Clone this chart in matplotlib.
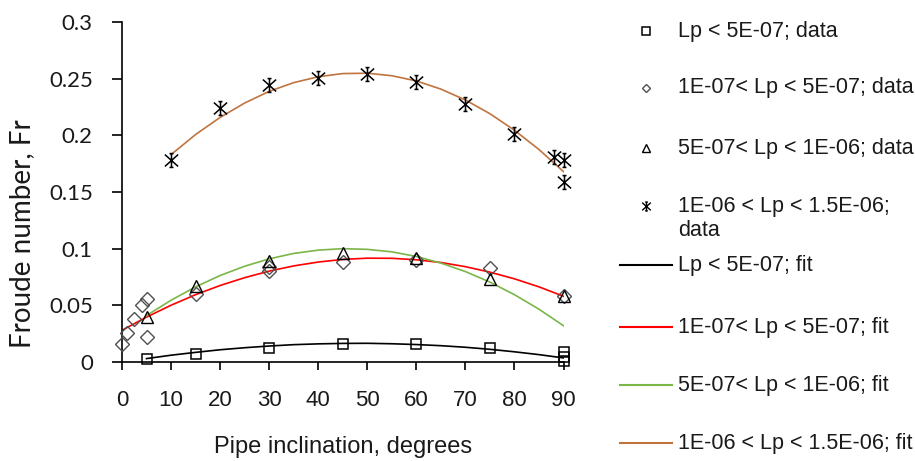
import numpy as np
import matplotlib
matplotlib.use("Agg")
import matplotlib.pyplot as plt
from matplotlib.lines import Line2D
from matplotlib.path import Path

# ---------------- data ----------------
sq_x = [5, 15, 30, 45, 60, 75, 90, 90, 90]
sq_y = [0.003, 0.007, 0.0125, 0.016, 0.016, 0.0125, 0.009, 0.0045, 0.001]

dm_x = [0, 1, 2.5, 4, 5, 5, 15, 30, 30, 45, 60, 75, 90]
dm_y = [0.016, 0.026, 0.038, 0.050, 0.056, 0.022, 0.060, 0.080, 0.084, 0.088, 0.090, 0.083, 0.058]

tr_x = [5, 15, 30, 45, 60, 75, 90]
tr_y = [0.040, 0.067, 0.089, 0.096, 0.0915, 0.073, 0.058]

st_x = [10, 20, 30, 40, 50, 60, 70, 80, 88, 90, 90]
st_y = [0.178, 0.224, 0.244, 0.251, 0.254, 0.247, 0.228, 0.201, 0.181, 0.178, 0.159]

# fitted trend lines
fit_black_x = [5, 10, 15, 20, 25, 30, 35, 40, 45, 50, 55, 60, 65, 70, 75, 80, 85, 90]
fit_black_y = [0.0030, 0.0060, 0.0085, 0.0108, 0.0126, 0.0141, 0.0153, 0.0160, 0.0164,
               0.0165, 0.0161, 0.0154, 0.0144, 0.0130, 0.0112, 0.0090, 0.0065, 0.0036]

fit_red_x = [0, 5, 10, 15, 20, 25, 30, 35, 40, 45, 50, 55, 60, 65, 70, 75, 80, 85, 90]
fit_red_y = [0.028, 0.0396, 0.0501, 0.0594, 0.0675, 0.0744, 0.0802, 0.0848, 0.0882, 0.0905,
             0.0916, 0.0915, 0.0902, 0.0878, 0.0841, 0.0793, 0.0734, 0.0663, 0.058]

fit_green_x = [5, 10, 15, 20, 25, 30, 35, 40, 45, 50, 55, 60, 65, 70, 75, 80, 85, 90]
fit_green_y = [0.041, 0.0545, 0.0663, 0.0763, 0.0845, 0.0910, 0.0958, 0.0987, 0.1000,
               0.0994, 0.0972, 0.0931, 0.0873, 0.0798, 0.0705, 0.0594, 0.0466, 0.0320]

fit_brown_x = [10, 15, 20, 25, 30, 35, 40, 45, 50, 55, 60, 65, 70, 75, 80, 85, 90]
fit_brown_y = [0.183, 0.2007, 0.2158, 0.2285, 0.2388, 0.2465, 0.2517, 0.2545, 0.2548,
               0.2526, 0.2480, 0.2408, 0.2312, 0.2191, 0.2045, 0.1875, 0.168]

x_ticks = [0, 10, 20, 30, 40, 50, 60, 70, 80, 90]
y_ticks = [0, 0.05, 0.1, 0.15, 0.2, 0.25, 0.3]
y_tick_labels = ["0", "0.05", "0.1", "0.15", "0.2", "0.25", "0.3"]

legend_labels = [
    "Lp < 5E-07; data",
    "1E-07< Lp < 5E-07; data",
    "5E-07< Lp < 1E-06; data",
    "1E-06 < Lp < 1.5E-06;\ndata",
    "Lp < 5E-07; fit",
    "1E-07< Lp < 5E-07; fit",
    "5E-07< Lp < 1E-06; fit",
    "1E-06 < Lp < 1.5E-06; fit",
]

x_label = "Pipe inclination, degrees"
y_label = "Froude number, Fr"

# ---------------- styles ----------------
C_RED = "#FF0000"
C_GREEN = "#7AB648"
C_BROWN = "#C0743E"
C_DIAM = "#505050"
C_TEXT = "#1a1a1a"

star_path = Path(
    [(-1, -0.9), (1, 0.9), (-1, 0.9), (1, -0.9), (0, -1.05), (0, 1.05),
     (-0.3, 1.05), (0.3, 1.05), (-0.3, -1.05), (0.3, -1.05)],
    [Path.MOVETO, Path.LINETO] * 5,
)

W, H = 915, 461
fig = plt.figure(figsize=(W / 100, H / 100), dpi=100)
ax_l, ax_r, ax_t, ax_b = 122, 563.5, 22, 362
ax = fig.add_axes([ax_l / W, 1 - ax_b / H, (ax_r - ax_l) / W, (ax_b - ax_t) / H])
ax.set_xlim(0, 90)
ax.set_ylim(0, 0.3)

lw_fit = 1.2
ax.plot(fit_black_x, fit_black_y, color="black", lw=lw_fit, zorder=2)
ax.plot(fit_red_x, fit_red_y, color=C_RED, lw=lw_fit, zorder=2)
ax.plot(fit_green_x, fit_green_y, color=C_GREEN, lw=lw_fit, zorder=2)
ax.plot(fit_brown_x, fit_brown_y, color=C_BROWN, lw=lw_fit, zorder=2)

ax.plot(sq_x, sq_y, ls="none", marker="s", ms=7.5, mfc="none", mec="black", mew=1.1, zorder=3, clip_on=False)
ax.plot(dm_x, dm_y, ls="none", marker="D", ms=6.8, mfc="none", mec=C_DIAM, mew=1.0, zorder=3, clip_on=False)
ax.plot(tr_x, tr_y, ls="none", marker="^", ms=8.5, mfc="none", mec="black", mew=1.0, zorder=3, clip_on=False)
ax.plot(st_x, st_y, ls="none", marker=star_path, ms=10, mfc="none", mec="black", mew=1.1, zorder=3, clip_on=False)

for s in ["top", "right"]:
    ax.spines[s].set_visible(False)
for s in ["left", "bottom"]:
    ax.spines[s].set_linewidth(1.2)
    ax.spines[s].set_color("black")

ax.set_xticks(x_ticks)
ax.set_xticklabels([str(v) for v in x_ticks], fontfamily="Liberation Sans", fontsize=16, color=C_TEXT)
ax.set_yticks(y_ticks)
ax.set_yticklabels(y_tick_labels, fontfamily="Lato", fontsize=16, color=C_TEXT)
ax.tick_params(axis="x", direction="out", length=6, width=1.2, pad=14)
ax.tick_params(axis="y", direction="out", length=7, width=1.2, pad=14)

fig.text((ax_l + ax_r) / 2 / W, 1 - 447 / H, x_label, ha="center", va="center",
         fontfamily="Liberation Sans", fontsize=17, color=C_TEXT)
fig.text(22 / W, 1 - 234 / H, y_label, ha="center", va="center", rotation=90,
         fontfamily="Lato", fontsize=20, color=C_TEXT)

# ---------------- legend (manual placement) ----------------
def fx(px):
    return px / W

def fy(py):
    return 1 - py / H

handles = [
    dict(marker="s", ms=6, mec="black", mew=1.1),
    dict(marker="D", ms=4.5, mec=C_DIAM, mew=1.0),
    dict(marker="^", ms=6, mec="black", mew=1.0),
    dict(marker=star_path, ms=6.5, mec="black", mew=1.0),
]
line_colors = ["black", C_RED, C_GREEN, C_BROWN]
row_y = [31, 88, 148, 218.5, 265, 327, 385, 443]
marker_row_y = [31, 88, 148, 206]
text_x = 678

for i, hd in enumerate(handles):
    fig.add_artist(Line2D([fx(646)], [fy(marker_row_y[i])], ls="none", mfc="none",
                          transform=fig.transFigure, **hd))
for i, c in enumerate(line_colors):
    yy = fy(row_y[4 + i])
    fig.add_artist(Line2D([fx(620), fx(672)], [yy, yy], color=c, lw=1.5, transform=fig.transFigure))

for i, lab in enumerate(legend_labels):
    fig.text(fx(text_x), fy(row_y[i]), lab, ha="left", va="center",
             fontfamily="Liberation Sans", fontsize=15.5, color=C_TEXT, linespacing=1.15)

fig.savefig("out.png", dpi=100)
